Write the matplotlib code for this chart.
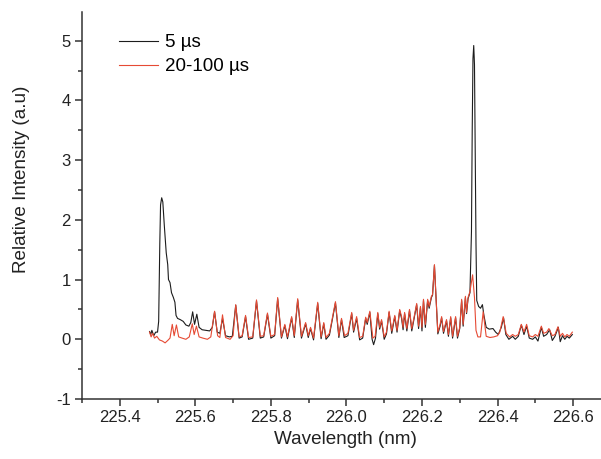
import numpy as np
import matplotlib.pyplot as plt
from matplotlib.ticker import MultipleLocator

plt.rcParams['font.family'] = ['Liberation Sans', 'DejaVu Sans']
plt.rcParams['axes.unicode_minus'] = False

# 5 us gate (black)
wl_5us = [
    225.479, 225.482, 225.485, 225.490, 225.495, 225.500, 225.503, 225.506, 225.508, 225.511,
    225.514, 225.518, 225.523, 225.527, 225.529, 225.533, 225.537, 225.542, 225.546, 225.549,
    225.553, 225.560, 225.568, 225.575, 225.583, 225.588, 225.593, 225.598, 225.604, 225.610,
    225.618, 225.628, 225.638, 225.645, 225.651, 225.658, 225.665, 225.672, 225.680, 225.690,
    225.698, 225.707, 225.716, 225.724, 225.733, 225.741, 225.752, 225.762, 225.772, 225.781,
    225.791, 225.800, 225.810, 225.818, 225.828, 225.837, 225.844, 225.855, 225.862, 225.871,
    225.881, 225.892, 225.899, 225.905, 225.913, 225.924, 225.933, 225.940, 225.946, 225.955,
    225.971, 225.980, 225.987, 225.994, 226.004, 226.014, 226.019, 226.027, 226.035, 226.043,
    226.051, 226.055, 226.062, 226.068, 226.072, 226.077, 226.083, 226.088, 226.093, 226.100,
    226.106, 226.113, 226.120, 226.128, 226.134, 226.141, 226.146, 226.150, 226.154, 226.160,
    226.167, 226.173, 226.180, 226.186, 226.191, 226.196, 226.200, 226.204, 226.209, 226.215,
    226.219, 226.225, 226.228, 226.233, 226.238, 226.242, 226.248, 226.252, 226.257, 226.265,
    226.270, 226.276, 226.281, 226.289, 226.294, 226.300, 226.305, 226.309, 226.315, 226.318,
    226.322, 226.327, 226.331, 226.333, 226.335, 226.337, 226.339, 226.341, 226.343, 226.345,
    226.350, 226.355, 226.360, 226.364, 226.370, 226.378, 226.388, 226.395, 226.402, 226.410,
    226.416, 226.422, 226.430, 226.440, 226.447, 226.455, 226.463, 226.470, 226.477, 226.484,
    226.493, 226.500, 226.507, 226.516, 226.522, 226.530, 226.538, 226.545, 226.552, 226.561,
    226.566, 226.572, 226.578, 226.584, 226.590, 226.598,
]
int_5us = [
    0.13, 0.08, 0.15, 0.06, 0.12, 0.12, 0.30, 1.60, 2.25, 2.37,
    2.30, 1.90, 1.45, 1.25, 1.00, 0.95, 0.78, 0.70, 0.62, 0.40,
    0.35, 0.33, 0.30, 0.24, 0.22, 0.28, 0.46, 0.25, 0.42, 0.20,
    0.16, 0.15, 0.14, 0.20, 0.46, 0.12, 0.10, 0.35, 0.06, 0.04,
    0.05, 0.57, 0.02, 0.04, 0.38, 0.00, 0.02, 0.64, 0.02, 0.04,
    0.42, 0.02, 0.06, 0.68, 0.02, 0.23, 0.01, 0.36, 0.03, 0.66,
    0.02, 0.26, 0.03, 0.18, -0.01, 0.60, 0.01, 0.26, 0.00, 0.07,
    0.61, 0.03, 0.33, 0.03, 0.06, 0.43, 0.12, 0.35, -0.01, 0.02,
    0.35, 0.25, 0.45, 0.00, -0.09, 0.02, 0.43, 0.17, 0.31, 0.00,
    0.09, 0.45, 0.10, 0.38, 0.12, 0.48, 0.35, 0.16, 0.43, 0.14,
    0.48, 0.14, 0.38, 0.58, 0.18, 0.53, 0.14, 0.65, 0.20, 0.65,
    0.52, 0.70, 0.74, 1.24, 0.58, 0.09, 0.22, 0.36, 0.10, 0.31,
    0.05, 0.36, 0.02, 0.36, 0.02, 0.18, 0.65, 0.22, 0.70, 0.43,
    0.68, 0.78, 1.80, 3.50, 4.70, 4.92, 4.60, 3.20, 1.60, 0.65,
    0.55, 0.52, 0.58, 0.40, 0.20, 0.17, 0.18, 0.12, 0.08, 0.20,
    0.36, 0.08, 0.00, 0.05, 0.00, 0.05, 0.24, 0.08, 0.22, 0.02,
    0.00, 0.04, -0.03, 0.20, 0.05, 0.08, 0.16, -0.02, 0.05, 0.20,
    -0.04, 0.06, 0.00, 0.05, 0.02, 0.08,
]

# 20-100 us gate (red)
wl_20us = [
    225.479, 225.483, 225.487, 225.492, 225.498, 225.505, 225.513, 225.520, 225.527, 225.533,
    225.539, 225.544, 225.550, 225.556, 225.565, 225.575, 225.584, 225.592, 225.597, 225.603,
    225.610, 225.620, 225.632, 225.641, 225.651, 225.659, 225.665, 225.672, 225.680, 225.692,
    225.700, 225.707, 225.716, 225.724, 225.733, 225.741, 225.752, 225.762, 225.772, 225.781,
    225.791, 225.800, 225.810, 225.818, 225.828, 225.837, 225.844, 225.855, 225.862, 225.871,
    225.881, 225.892, 225.899, 225.905, 225.913, 225.924, 225.933, 225.940, 225.946, 225.955,
    225.971, 225.980, 225.987, 225.995, 226.004, 226.014, 226.019, 226.027, 226.035, 226.043,
    226.051, 226.055, 226.062, 226.070, 226.076, 226.083, 226.088, 226.093, 226.100, 226.106,
    226.113, 226.120, 226.128, 226.134, 226.141, 226.146, 226.150, 226.154, 226.160, 226.167,
    226.173, 226.180, 226.186, 226.191, 226.196, 226.200, 226.204, 226.209, 226.215, 226.219,
    226.225, 226.228, 226.233, 226.238, 226.242, 226.248, 226.252, 226.257, 226.265, 226.270,
    226.276, 226.281, 226.289, 226.294, 226.300, 226.305, 226.309, 226.315, 226.318, 226.322,
    226.327, 226.334, 226.339, 226.343, 226.348, 226.355, 226.362, 226.370, 226.380, 226.390,
    226.400, 226.406, 226.415, 226.423, 226.432, 226.440, 226.447, 226.455, 226.463, 226.470,
    226.477, 226.484, 226.493, 226.500, 226.507, 226.516, 226.522, 226.530, 226.536, 226.545,
    226.552, 226.560, 226.566, 226.572, 226.578, 226.584, 226.590, 226.598,
]
int_20us = [
    0.12, 0.04, 0.10, 0.02, 0.05, -0.01, -0.03, -0.06, -0.02, 0.02,
    0.25, 0.06, 0.24, 0.04, 0.02, 0.00, 0.04, 0.26, 0.08, 0.22,
    0.04, 0.02, 0.00, 0.04, 0.47, 0.06, 0.03, 0.41, 0.03, 0.00,
    0.06, 0.58, 0.04, 0.06, 0.40, 0.03, 0.04, 0.66, 0.05, 0.06,
    0.44, 0.05, 0.08, 0.70, 0.04, 0.25, 0.04, 0.38, 0.06, 0.68,
    0.05, 0.28, 0.06, 0.20, 0.02, 0.62, 0.04, 0.28, 0.03, 0.10,
    0.63, 0.06, 0.35, 0.06, 0.10, 0.45, 0.15, 0.38, 0.03, 0.05,
    0.37, 0.28, 0.47, 0.02, 0.05, 0.45, 0.20, 0.33, 0.04, 0.12,
    0.47, 0.14, 0.40, 0.15, 0.50, 0.38, 0.20, 0.45, 0.18, 0.50,
    0.18, 0.40, 0.60, 0.22, 0.55, 0.20, 0.67, 0.25, 0.67, 0.55,
    0.72, 0.75, 1.25, 0.60, 0.12, 0.25, 0.38, 0.13, 0.33, 0.08,
    0.38, 0.05, 0.38, 0.05, 0.20, 0.67, 0.25, 0.72, 0.45, 0.70,
    0.80, 1.08, 0.70, 0.15, 0.04, 0.04, 0.46, 0.05, 0.03, 0.04,
    0.06, 0.12, 0.38, 0.10, 0.04, 0.08, 0.05, 0.08, 0.25, 0.12,
    0.25, 0.06, 0.04, 0.08, 0.05, 0.22, 0.10, 0.12, 0.18, 0.06,
    0.08, 0.21, 0.05, 0.10, 0.04, 0.08, 0.05, 0.12,
]

fig = plt.figure(figsize=(6.01, 4.59), dpi=100)
ax = fig.add_axes([0.1364, 0.1307, 0.880, 0.843])

ax.plot(wl_5us, int_5us, color='#1c1c1c', lw=0.8, label='5 \u00b5s')
ax.plot(wl_20us, int_20us, color='#e64a34', lw=0.8, label='20-100 \u00b5s')

ax.set_xlim(225.3, 226.7)
ax.set_ylim(-1, 5.48)
ax.xaxis.set_major_locator(MultipleLocator(0.2))
ax.xaxis.set_minor_locator(MultipleLocator(0.1))
ax.yaxis.set_major_locator(MultipleLocator(1))
ax.yaxis.set_minor_locator(MultipleLocator(0.5))
ax.xaxis.set_major_formatter(plt.FuncFormatter(lambda v, p: '%.1f' % v))

for s in ['top', 'right']:
    ax.spines[s].set_visible(False)
for s in ['left', 'bottom']:
    ax.spines[s].set_color('#333333')
    ax.spines[s].set_linewidth(1.1)
ax.tick_params(which='major', direction='out', length=5, width=1.1, color='#333333',
               labelsize=12, labelcolor='#222222', pad=3)
ax.tick_params(which='minor', direction='out', length=3, width=1.1, color='#333333')

ax.set_xlabel('Wavelength (nm)', fontsize=13.6, color='#222222')
ax.set_ylabel('Relative Intensity (a.u)', fontsize=13.6, color='#222222')
ax.xaxis.set_label_coords(0.499, -0.083)
ax.yaxis.set_label_coords(-0.098, 0.568)

ax.legend(loc='upper left', bbox_to_anchor=(0.056, 0.962), frameon=False, fontsize=13.5,
          handlelength=2.1, handletextpad=0.35, labelspacing=0.37, borderaxespad=0)

fig.savefig('out.png', dpi=100)
